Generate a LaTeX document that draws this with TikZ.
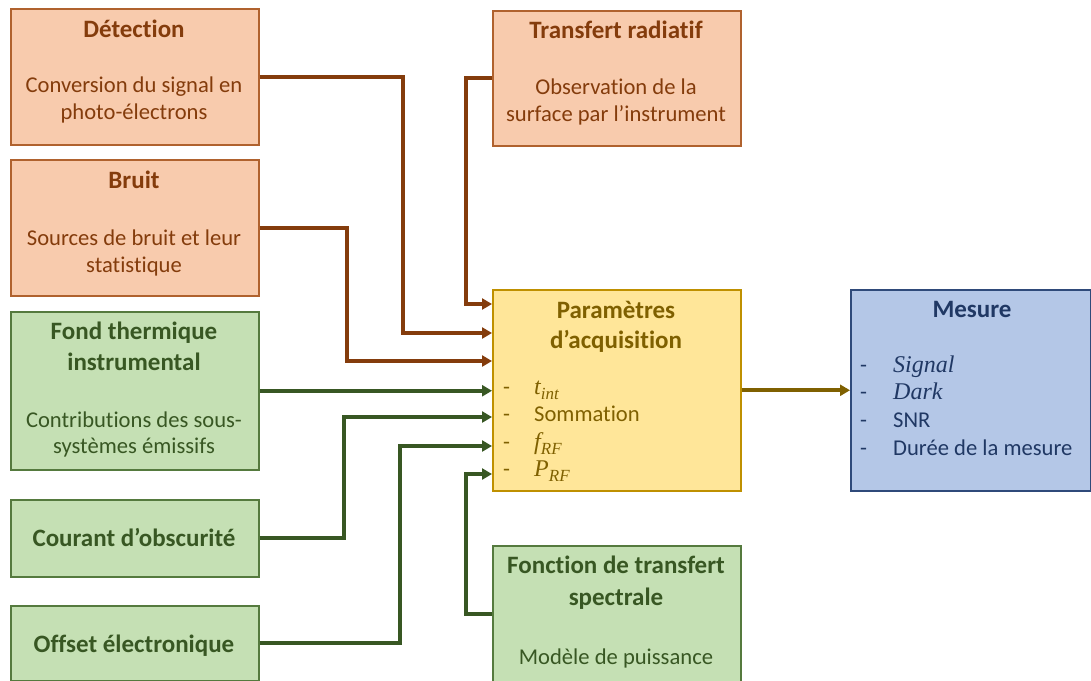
\documentclass[tikz,border=0pt]{standalone}
\usepackage{fontspec}
\setmainfont{Carlito}[Ligatures=NoCommon]
\newfontfamily\mfnt{Liberation Serif}
\newcommand{\mvar}[2]{{\mfnt\itshape\fontsize{24}{27}\selectfont #1\raisebox{-0.22em}{\fontsize{17}{17}\selectfont #2}}}
\usetikzlibrary{arrows.meta}
\definecolor{orfill}{HTML}{F8CBAD}
\definecolor{ordraw}{HTML}{B0622E}
\definecolor{brn}{HTML}{843C0C}
\definecolor{grfill}{HTML}{C5E0B4}
\definecolor{grdraw}{HTML}{557A3E}
\definecolor{grn}{HTML}{385723}
\definecolor{yefill}{HTML}{FFE699}
\definecolor{yedraw}{HTML}{BF9000}
\definecolor{olv}{HTML}{7F6000}
\definecolor{blfill}{HTML}{B4C7E7}
\definecolor{bldraw}{HTML}{2F4A7A}
\definecolor{nvy}{HTML}{203864}
\tikzset{
  box/.style={rectangle, line width=1.5pt, anchor=north west, inner sep=0pt, minimum width=248pt},
  obox/.style={box, fill=orfill, draw=ordraw},
  gbox/.style={box, fill=grfill, draw=grdraw},
  ybox/.style={box, fill=yefill, draw=yedraw},
  bbox/.style={box, fill=blfill, draw=bldraw},
  ttl/.style={anchor=base, inner sep=0pt, font=\bfseries\fontsize{25}{31}\selectfont},
  bdy/.style={anchor=base, inner sep=0pt, font=\fontsize{22.6}{27}\selectfont},
  itm/.style={anchor=base west, inner sep=0pt, font=\fontsize{22.6}{27}\selectfont},
  conn/.style={line width=3.6pt, -{Triangle[length=10pt,width=11pt]}},
  bconn/.style={conn, draw=brn},
  gconn/.style={conn, draw=grn},
}
\begin{document}
\begin{tikzpicture}[x=1pt,y=-1pt]
\path[use as bounding box] (0,0) rectangle (1091,680);
% boxes
\node[obox, minimum height=136pt] (det) at (10,8) {};
\node[obox, minimum height=136pt] (bru) at (10,159) {};
\node[gbox, minimum height=158pt] (fon) at (10,311) {};
\node[gbox, minimum height=77pt] (cou) at (10,499) {};
\node[gbox, minimum height=75pt] (off) at (10,605) {};
\node[obox, minimum height=135pt] (tra) at (492,10) {};
\node[ybox, minimum height=201pt] (par) at (492,289) {};
\node[gbox, minimum height=136pt] (ftr) at (492,545) {};
\node[bbox, minimum height=201pt, minimum width=240pt] (mes) at (850,289) {};
% texts
\begin{scope}[text=brn]
\node[ttl] (detT) at (134,37.5) {Détection};
\node[bdy] (detB1) at (134,92.5) {Conversion du signal en};
\node[bdy] (detB2) at (134,119.5) {photo-électrons};
\node[ttl] (bruT) at (134,188.5) {Bruit};
\node[bdy] (bruB1) at (134,245) {Sources de bruit et leur};
\node[bdy] (bruB2) at (134,272) {statistique};
\node[ttl] (traT) at (616,38) {Transfert radiatif};
\node[bdy] (traB1) at (616,94) {Observation de la};
\node[bdy] (traB2) at (616,121) {surface par l’instrument};
\end{scope}
\begin{scope}[text=grn]
\node[ttl] (fonT1) at (134,339) {Fond thermique};
\node[ttl] (fonT2) at (134,370) {instrumental};
\node[bdy] (fonB1) at (134,427) {Contributions des sous-};
\node[bdy] (fonB2) at (134,453) {systèmes émissifs};
\node[ttl] (couT) at (134,546) {Courant d’obscurité};
\node[ttl] (offT) at (134,652) {Offset électronique};
\node[ttl] (ftrT1) at (616,573) {Fonction de transfert};
\node[ttl] (ftrT2) at (616,605) {spectrale};
\node[bdy] (ftrB) at (616,664) {Modèle de puissance};
\end{scope}
\begin{scope}[text=olv]
\node[ttl] (parT1) at (616,318) {Paramètres};
\node[ttl] (parT2) at (616,348) {d’acquisition};
\node[itm] (pd1) at (503,394) {-};
\node[itm] (pd2) at (503,421.5) {-};
\node[itm] (pd3) at (503,449) {-};
\node[itm] (pd4) at (503,476) {-};
\node[itm] (pi1) at (534,394) {\mvar{t}{int}};
\node[itm] (pi2) at (534,421.5) {Sommation};
\node[itm] (pi3) at (534,449) {\mvar{f}{RF}};
\node[itm] (pi4) at (534,476) {\mvar{P}{RF}};
\end{scope}
\begin{scope}[text=nvy]
\node[ttl] (mesT) at (972,317) {Mesure};
\node[itm] (md1) at (860,372) {-};
\node[itm] (md2) at (860,399) {-};
\node[itm] (md3) at (860,427) {-};
\node[itm] (md4) at (860,455) {-};
\node[itm] (mi1) at (893,372) {\mvar{Signal}{}};
\node[itm] (mi2) at (893,399) {\mvar{Dark}{}};
\node[itm] (mi3) at (893,427) {SNR};
\node[itm] (mi4) at (893,455) {Durée de la mesure};
\end{scope}
% connectors
\draw[bconn] (tra.west) -| ([xshift=-26pt,yshift=-15pt]par.north west) -- ([yshift=-15pt]par.north west);
\draw[bconn] (det.east) -| ([xshift=-89pt,yshift=-44pt]par.north west) -- ([yshift=-44pt]par.north west);
\draw[bconn] (bru.east) -| ([xshift=-145pt,yshift=-72pt]par.north west) -- ([yshift=-72pt]par.north west);
\draw[gconn] (fon.east) -- (fon.east -| par.west);
\draw[gconn] (cou.east) -| ([xshift=-148pt,yshift=-128pt]par.north west) -- ([yshift=-128pt]par.north west);
\draw[gconn] (off.east) -| ([xshift=-92pt,yshift=-157pt]par.north west) -- ([yshift=-157pt]par.north west);
\draw[gconn] (ftr.west) -| ([xshift=-26pt,yshift=-185pt]par.north west) -- ([yshift=-185pt]par.north west);
\draw[conn, draw=olv] (par.east) -- (mes.west);
\end{tikzpicture}
\end{document}
